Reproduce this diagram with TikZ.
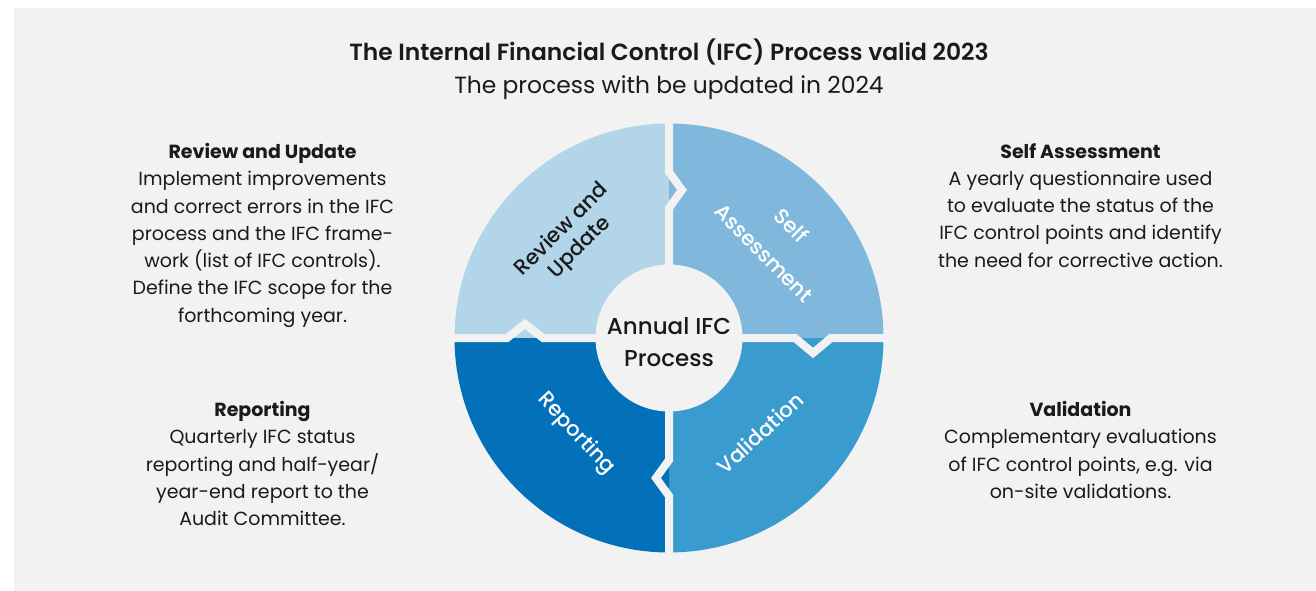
\documentclass[tikz,border=0pt]{standalone}
\usepackage{fontspec}
\setmainfont{Poppins}
\newfontfamily\medfont{Poppins Medium}
\newfontfamily\semifont{Poppins SemiBold}
\definecolor{bg}{HTML}{F2F2F2}
\definecolor{cRev}{HTML}{B3D5E9}
\definecolor{cSelf}{HTML}{7FB8DC}
\definecolor{cVal}{HTML}{3A9CCE}
\definecolor{cRep}{HTML}{0271B9}
\definecolor{ink}{HTML}{1A1A1A}
\tikzset{
  gap/.style={draw=bg, line width=8pt, miter limit=10},
  sidetext/.style={anchor=north, align=center, inner sep=0pt, text=ink,
    font=\fontsize{19}{27.3}\selectfont},
  quadlabel/.style={align=center, inner sep=0pt, font=\medfont\fontsize{21}{25}\selectfont},
}
\begin{document}
\begin{tikzpicture}[x=1pt,y=-1pt]
\useasboundingbox (0,0) rectangle (1316,591);
\fill[white] (0,0) rectangle (1316,591);
\fill[bg] (14,8) rectangle (1316,591);

% title
\node[align=center, inner sep=0pt, text=ink, anchor=north,
  font=\fontsize{23.4}{33}\selectfont] (title) at (669,39)
  {{\semifont The Internal Financial Control (IFC) Process valid 2023}\\
   The process with be updated in 2024};

% quadrants
\coordinate (C) at (669,338);
\begin{scope}\clip (669,338) rectangle (400,100);
  \fill[cRev] (C) circle[radius=214.5];\end{scope}
\begin{scope}\clip (669,338) rectangle (940,100);
  \fill[cSelf] (C) circle[radius=214.5];\end{scope}
\begin{scope}\clip (669,338) rectangle (940,580);
  \fill[cVal] (C) circle[radius=214.5];\end{scope}
\begin{scope}\clip (669,338) rectangle (400,580);
  \fill[cRep] (C) circle[radius=214.5];\end{scope}

% gaps with clockwise chevrons
\draw[gap] (C) -- (669,208) -- (682,190) -- (669,172) -- (669,100);
\draw[gap] (C) -- (795,338) -- (813,353) -- (831,338) -- (900,338);
\draw[gap] (C) -- (669,460) -- (656,478) -- (669,496) -- (669,580);
\draw[gap] (C) -- (543,338) -- (525,324) -- (507,338) -- (440,338);

% hub
\fill[bg] (C) circle[radius=73.5];
\node[align=center, inner sep=0pt, text=ink,
  font=\medfont\fontsize{23}{32}\selectfont] (hub) at (669,342) {Annual IFC\\Process};

% quadrant labels
\node[quadlabel, text=ink, rotate=45] (qrev) at (571,239) {Review and\\Update};
\node[quadlabel, text=white, rotate=-45, font=\medfont\fontsize{21}{39}\selectfont]
  (qself) at (778,239) {Self\\Assessment};
\node[quadlabel, text=white, rotate=-47] (qrep) at (576,434) {Reporting};
\node[quadlabel, text=white, rotate=43] (qval) at (760,433) {Validation};

% side texts
\node[sidetext] (trev) at (262.5,143) {{\bfseries Review and Update}\\
  Implement improvements\\and correct errors in the IFC\\process and the IFC frame-\\
  work (list of IFC controls).\\Define the IFC scope for the\\forthcoming year.};
\node[sidetext] (tself) at (1080.5,143) {{\bfseries Self Assessment}\\
  A yearly questionnaire used\\to evaluate the status of the\\IFC control points and identify\\
  the need for corrective action.};
\node[sidetext] (trep) at (262.5,401) {{\bfseries Reporting}\\
  Quarterly IFC status\\reporting and half-year/\\year-end report to the\\Audit Committee.};
\node[sidetext] (tval) at (1080.5,401) {{\bfseries Validation}\\
  Complementary evaluations\\of IFC control points, e.g. via\\on-site validations.};
\end{tikzpicture}
\end{document}
